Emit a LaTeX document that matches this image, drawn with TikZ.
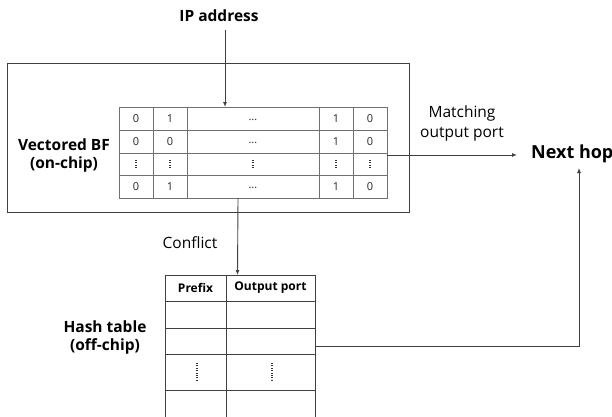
\documentclass[tikz,border=0pt]{standalone}
\usepackage{fontspec}
\setmainfont{Open Sans}
\usetikzlibrary{arrows.meta}
\definecolor{ln}{HTML}{404040}
\definecolor{tl}{HTML}{707070}
\tikzset{
  conn/.style={draw=ln, line width=0.9pt, -{Latex[length=5pt,width=4pt]}},
  plain/.style={draw=ln, line width=0.9pt},
  grid/.style={draw=tl, line width=0.9pt},
  btxt/.style={font=\bfseries\fontsize{15.5}{18}\selectfont, align=center, inner sep=0pt},
  rtxt/.style={font=\fontsize{15.5}{20}\selectfont, align=center, inner sep=0pt},
  cell/.style={font=\fontsize{11}{12}\selectfont, inner sep=0pt, text=black!85},
  hcell/.style={font=\bfseries\fontsize{12}{14}\selectfont, inner sep=0pt},
  vd/.style={draw=black!80, line width=1.1pt, dash pattern=on 0.8pt off 1.6pt},
}
\begin{document}
\begin{tikzpicture}[x=1pt, y=-1pt]
\useasboundingbox (0,0) rectangle (612,416);
\clip (0,0) rectangle (612,416);
% outer box
\node[draw=ln, line width=0.9pt, minimum width=402pt, minimum height=149pt, inner sep=0pt, anchor=north west] (chip) at (7,63) {};
% BF table
\node[grid, inner sep=0pt, minimum width=268pt, minimum height=91pt, anchor=north west] (bf) at (119,107) {};
\foreach \x in {153,187,319,353} \draw[grid] (\x,107) -- (\x,198);
\foreach \y in {130,153,175} \draw[grid] (119,\y) -- (387,\y);
% cell contents
\foreach \y/\a/\b/\c/\d in {118.5/0/1/1/0, 141.5/0/0/1/0, 186.5/0/1/1/0} {
  \node[cell] at (136,\y) {\a};
  \node[cell] at (170,\y) {\b};
  \node[cell] at (253,\y+1) {…};
  \node[cell] at (336,\y) {\c};
  \node[cell] at (370,\y) {\d};
}
\foreach \x in {136,170,253,336,370} \draw[vd] (\x,160) -- (\x,169);
% labels
\node[btxt] (ip) at (219,16) {IP address};
\node[btxt] (vbf) at (64,155) {Vectored BF\\(on-chip)};
\node[rtxt] (match) at (462,123) {Matching\\output port};
\node[btxt, font=\bfseries\fontsize{18}{20}\selectfont, anchor=base west] (nh) at (531,158) {Next hop};
\node[rtxt] (conf) at (190,243) {Conflict};
\node[btxt] (ht) at (105,337) {Hash table\\(off-chip)};
% hash table
\foreach \y in {275,301,328,354,390} \draw[grid, draw=ln] (165,\y) -- (315,\y);
\foreach \x in {165,226,315} \draw[grid, draw=ln] (\x,275) -- (\x,417);
\node[hcell] at (195.5,288) {Prefix};
\node[hcell] at (270.5,288) {Output port};
\draw[vd] (197,363) -- (197,382);
\draw[vd] (272,363) -- (272,382);
\coordinate (htin) at (237.5,275);
\coordinate (htout) at (315,346);
% connectors
\draw[conn] (225,30) -- (225,107);
\draw[conn] (238,198) -- (htin);
\draw[conn] (387,155) -- (517,155);
\draw[conn] (htout) -- (579,346) -- (579,168);
\end{tikzpicture}
\end{document}
